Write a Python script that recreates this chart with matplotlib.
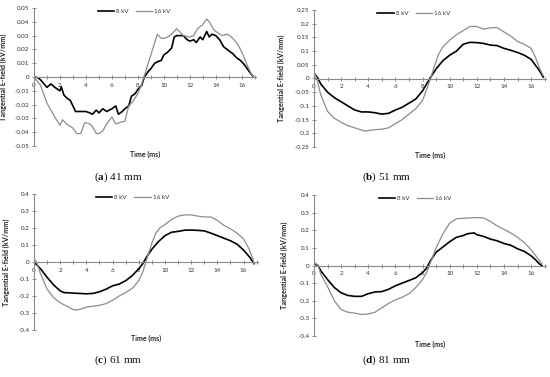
import matplotlib
matplotlib.use("Agg")
import matplotlib.pyplot as plt
from matplotlib.ticker import FuncFormatter, MultipleLocator
import numpy as np

plt.rcParams['font.family'] = ['Lato', 'DejaVu Sans']
plt.rcParams['axes.unicode_minus'] = False
plt.rcParams['mathtext.fontset'] = 'custom'
plt.rcParams['mathtext.rm'] = 'Liberation Serif'
plt.rcParams['mathtext.bf'] = 'Liberation Serif:bold'

# ---------------- data ----------------
# (a) 41 mm
t_a8 = [0, 0.3, 0.5, 1.0, 1.3, 1.6, 2.0, 2.1, 2.3, 2.5, 2.8, 3.0, 3.2, 3.5, 4.0, 4.3, 4.5, 4.8, 5.0,
        5.3, 5.6, 6.0, 6.3, 6.5, 6.8, 7.0, 7.3, 7.5, 7.8, 8.0, 8.3, 8.5, 8.8, 9.0, 9.3, 9.5, 9.8,
        10.0, 10.3, 10.6, 10.8, 11.0, 11.5, 11.8, 12.0, 12.3, 12.5, 12.8, 13.0, 13.3, 13.5, 13.7,
        14.0, 14.3, 14.6, 15.0, 15.3, 15.6, 15.9, 16.2, 16.5, 16.9]
e_a8 = [0, -0.0005, -0.002, -0.0075, -0.005, -0.0075, -0.010, -0.007, -0.013, -0.015, -0.017,
        -0.021, -0.025, -0.025, -0.025, -0.026, -0.027, -0.024, -0.026, -0.023, -0.025, -0.023,
        -0.021, -0.027, -0.025, -0.023, -0.021, -0.014, -0.012, -0.009, -0.006, 0.0, 0.004, 0.006,
        0.010, 0.011, 0.012, 0.016, 0.018, 0.021, 0.029, 0.030, 0.030, 0.027, 0.026, 0.027, 0.025,
        0.029, 0.027, 0.033, 0.029, 0.031, 0.030, 0.027, 0.022, 0.019, 0.017, 0.014, 0.012, 0.009,
        0.005, 0.0]
t_a16 = [0, 0.5, 1.0, 1.3, 1.6, 2.0, 2.2, 2.5, 3.0, 3.3, 3.6, 3.9, 4.3, 4.5, 4.8, 5.0, 5.3, 5.6,
         6.0, 6.3, 6.6, 7.0, 7.3, 7.6, 8.0, 8.3, 8.6, 8.9, 9.2, 9.5, 9.8, 10.0, 10.3, 10.6, 11.0,
         11.2, 11.5, 12.0, 12.3, 12.6, 13.0, 13.3, 13.5, 13.8, 14.0, 14.5, 14.9, 15.2, 15.5, 15.8,
         16.1, 16.4, 16.7, 16.9]
e_a16 = [0, -0.006, -0.019, -0.024, -0.029, -0.035, -0.031, -0.034, -0.037, -0.041, -0.041,
         -0.033, -0.034, -0.036, -0.041, -0.041, -0.039, -0.034, -0.029, -0.034, -0.033, -0.032,
         -0.021, -0.018, -0.012, -0.005, 0.004, 0.013, 0.022, 0.031, 0.028, 0.028, 0.029, 0.031,
         0.035, 0.033, 0.030, 0.029, 0.030, 0.035, 0.038, 0.042, 0.040, 0.035, 0.033, 0.030, 0.031,
         0.029, 0.026, 0.022, 0.016, 0.009, 0.003, 0.0]

# (b) 51 mm
t_b8 = [0, 0.3, 0.5, 1, 1.5, 2, 2.5, 3, 3.5, 4, 4.5, 5, 5.5, 6, 6.5, 7, 7.5, 8, 8.3, 8.6, 9, 9.5,
        10, 10.5, 11, 11.5, 12, 12.5, 13, 13.5, 14, 14.5, 15, 15.5, 16, 16.3, 16.6, 16.9]
e_b8 = [0.02, 0.0, -0.02, -0.05, -0.07, -0.085, -0.10, -0.115, -0.122, -0.122, -0.125, -0.13,
        -0.127, -0.115, -0.105, -0.09, -0.075, -0.045, -0.02, 0.005, 0.035, 0.065, 0.085, 0.10,
        0.125, 0.132, 0.131, 0.128, 0.122, 0.12, 0.11, 0.103, 0.095, 0.085, 0.07, 0.05, 0.03, 0.005]
t_b16 = [0, 0.2, 0.5, 1, 1.5, 2, 2.5, 3, 3.5, 3.8, 4, 4.5, 5, 5.5, 6, 6.5, 7, 7.5, 8, 8.3, 8.6,
         8.9, 9.2, 9.5, 10, 10.5, 11, 11.5, 12, 12.5, 13, 13.5, 14, 14.5, 15, 15.5, 16, 16.3, 16.6,
         16.9]
e_b16 = [0.025, 0.0, -0.06, -0.12, -0.145, -0.16, -0.172, -0.18, -0.188, -0.192, -0.19, -0.187,
         -0.185, -0.18, -0.165, -0.15, -0.13, -0.11, -0.08, -0.04, 0.0, 0.05, 0.09, 0.115, 0.14,
         0.16, 0.175, 0.19, 0.19, 0.18, 0.185, 0.186, 0.17, 0.155, 0.135, 0.125, 0.11, 0.08, 0.04,
         0.01]

# (c) 61 mm
t_c8 = [0, 0.5, 1, 1.5, 2, 2.3, 3, 3.5, 4, 4.5, 5, 5.5, 6, 6.5, 7, 7.5, 8, 8.3, 8.6, 9, 9.5, 10,
        10.5, 11, 11.5, 12, 12.5, 13, 13.5, 14, 14.5, 15, 15.5, 16, 16.5, 16.8]
e_c8 = [0, -0.04, -0.09, -0.135, -0.17, -0.18, -0.183, -0.185, -0.187, -0.185, -0.175, -0.16,
        -0.14, -0.13, -0.11, -0.08, -0.04, -0.01, 0.03, 0.075, 0.12, 0.155, 0.175, 0.18, 0.187,
        0.188, 0.186, 0.183, 0.17, 0.155, 0.14, 0.125, 0.105, 0.07, 0.025, -0.01]
t_c16 = [0, 0.2, 0.5, 1, 1.5, 2, 2.5, 3, 3.3, 3.7, 4, 4.5, 5, 5.5, 6, 6.5, 7, 7.5, 8, 8.3, 8.5,
         8.7, 9, 9.3, 9.6, 10, 10.5, 11, 11.5, 12, 12.5, 13, 13.5, 14, 14.5, 15, 15.5, 16, 16.4,
         16.7, 16.8]
e_c16 = [0.02, 0.0, -0.07, -0.16, -0.21, -0.24, -0.26, -0.28, -0.282, -0.275, -0.265, -0.26,
         -0.255, -0.245, -0.225, -0.20, -0.18, -0.155, -0.11, -0.06, -0.01, 0.04, 0.11, 0.17, 0.20,
         0.22, 0.25, 0.27, 0.277, 0.277, 0.27, 0.265, 0.265, 0.245, 0.215, 0.195, 0.17, 0.135,
         0.08, 0.02, -0.01]

# (d) 81 mm
t_d8 = [0, 0.3, 0.5, 1, 1.5, 2, 2.5, 3, 3.5, 4, 4.5, 5, 5.5, 6, 6.5, 7, 7.5, 8, 8.3, 8.6, 9, 9.5,
        10, 10.5, 11, 11.3, 11.8, 12, 12.5, 13, 13.5, 14, 14.5, 15, 15.5, 16, 16.3, 16.6, 16.8]
e_d8 = [0.01, 0.0, -0.03, -0.08, -0.125, -0.155, -0.17, -0.175, -0.175, -0.16, -0.15, -0.148,
        -0.135, -0.115, -0.10, -0.085, -0.07, -0.04, -0.015, 0.03, 0.075, 0.105, 0.135, 0.16,
        0.17, 0.18, 0.185, 0.175, 0.165, 0.15, 0.14, 0.125, 0.115, 0.095, 0.08, 0.055, 0.035,
        0.01, 0.0]
t_d16 = [0, 0.3, 0.5, 1, 1.5, 2, 2.5, 3, 3.5, 4, 4.5, 5, 5.5, 6, 6.5, 7, 7.5, 8, 8.3, 8.6, 9,
         9.5, 10, 10.5, 11, 11.5, 12, 12.5, 13, 13.5, 14, 14.5, 15, 15.5, 16, 16.4, 16.8]
e_d16 = [0.02, 0.0, -0.05, -0.12, -0.20, -0.25, -0.265, -0.27, -0.278, -0.275, -0.265, -0.24,
         -0.215, -0.195, -0.18, -0.16, -0.125, -0.08, -0.04, 0.02, 0.10, 0.18, 0.24, 0.265, 0.268,
         0.27, 0.272, 0.27, 0.25, 0.225, 0.205, 0.185, 0.16, 0.13, 0.09, 0.05, 0.01]

captions = [r"($\mathbf{a}$) 41 mm", r"($\mathbf{b}$) 51 mm",
            r"($\mathbf{c}$) 61 mm", r"($\mathbf{d}$) 81 mm"]
series_labels = ["8 kV", "16 kV"]
ylims = [(-0.05, 0.05), (-0.25, 0.25), (-0.4, 0.4), (-0.4, 0.4)]
ysteps = [0.01, 0.05, 0.1, 0.1]

panels = [(t_a8, e_a8, t_a16, e_a16), (t_b8, e_b8, t_b16, e_b16),
          (t_c8, e_c8, t_c16, e_c16), (t_d8, e_d8, t_d16, e_d16)]

# ---------------- layout ----------------
W, H = 550, 377
rects_px = [(34, 8, 256, 146), (314, 10, 546, 147), (34, 194, 258, 330), (314, 195, 546, 336)]
leg_x = [0.45, 0.43, 0.44, 0.435]
ylab_x = [-0.12, -0.125, -0.107, -0.112]
cap_pos = [(118, 177), (387, 177), (118, 360), (387, 360)]

fig = plt.figure(figsize=(W / 100, H / 100), dpi=100)
fig.patch.set_facecolor('white')

axis_col = '#8a8a8a'
tick_col = '#333333'
black = '#000000'
grey = '#8c8c8c'


def fmt(v, p):
    if abs(v) < 1e-9:
        return "0"
    s = "%g" % round(abs(v), 3)
    return ("-" + s) if v < 0 else s


for i, (t8, e8, t16, e16) in enumerate(panels):
    x0, y0, x1, y1 = rects_px[i]
    ax = fig.add_axes([x0 / W, 1 - y1 / H, (x1 - x0) / W, (y1 - y0) / H])
    ax.plot(t8, e8, color=black, lw=1.2, label=series_labels[0], solid_joinstyle='round')
    ax.plot(t16, e16, color=grey, lw=0.9, label=series_labels[1], solid_joinstyle='round')
    ax.set_xlim(0, 17.1)
    ax.set_ylim(*ylims[i])
    ax.spines['top'].set_visible(False)
    ax.spines['right'].set_visible(False)
    ax.spines['bottom'].set_position(('data', 0))
    for s in ('left', 'bottom'):
        ax.spines[s].set_color(axis_col)
        ax.spines[s].set_linewidth(0.8)
    ax.xaxis.set_major_locator(MultipleLocator(2))
    ax.xaxis.set_minor_locator(MultipleLocator(1))
    ax.yaxis.set_major_locator(MultipleLocator(ysteps[i]))
    ax.yaxis.set_major_formatter(FuncFormatter(fmt))
    ax.tick_params(axis='both', which='both', direction='inout', length=3.5, width=0.7,
                   color=axis_col, labelsize=4.5, labelcolor=tick_col, pad=1.5)
    ax.tick_params(axis='x', which='major', pad=2.5)
    ax.set_ylabel("Tangential E-field (kV/mm)", fontsize=5.2, fontweight='bold', color='#222222')
    ax.yaxis.set_label_coords(ylab_x[i], 0.5)
    ax.text(0.5, -0.035, "Time (ms)", transform=ax.transAxes, ha='center', va='top',
            fontsize=5.0, fontweight='bold', color='#222222')
    leg = ax.legend(loc='center', bbox_to_anchor=(leg_x[i], 0.975), ncol=2, frameon=False,
                    fontsize=4.5, handlelength=2.6, columnspacing=1.2, handletextpad=0.3,
                    borderaxespad=0)
    for txt in leg.get_texts():
        txt.set_color(tick_col)

for cap, (cx, cy) in zip(captions, cap_pos):
    fig.text(cx / W, 1 - cy / H, cap, ha='center', va='center', fontsize=8,
             family='Liberation Serif', color='#111111')

fig.savefig("out.png", dpi=100, facecolor='white')
